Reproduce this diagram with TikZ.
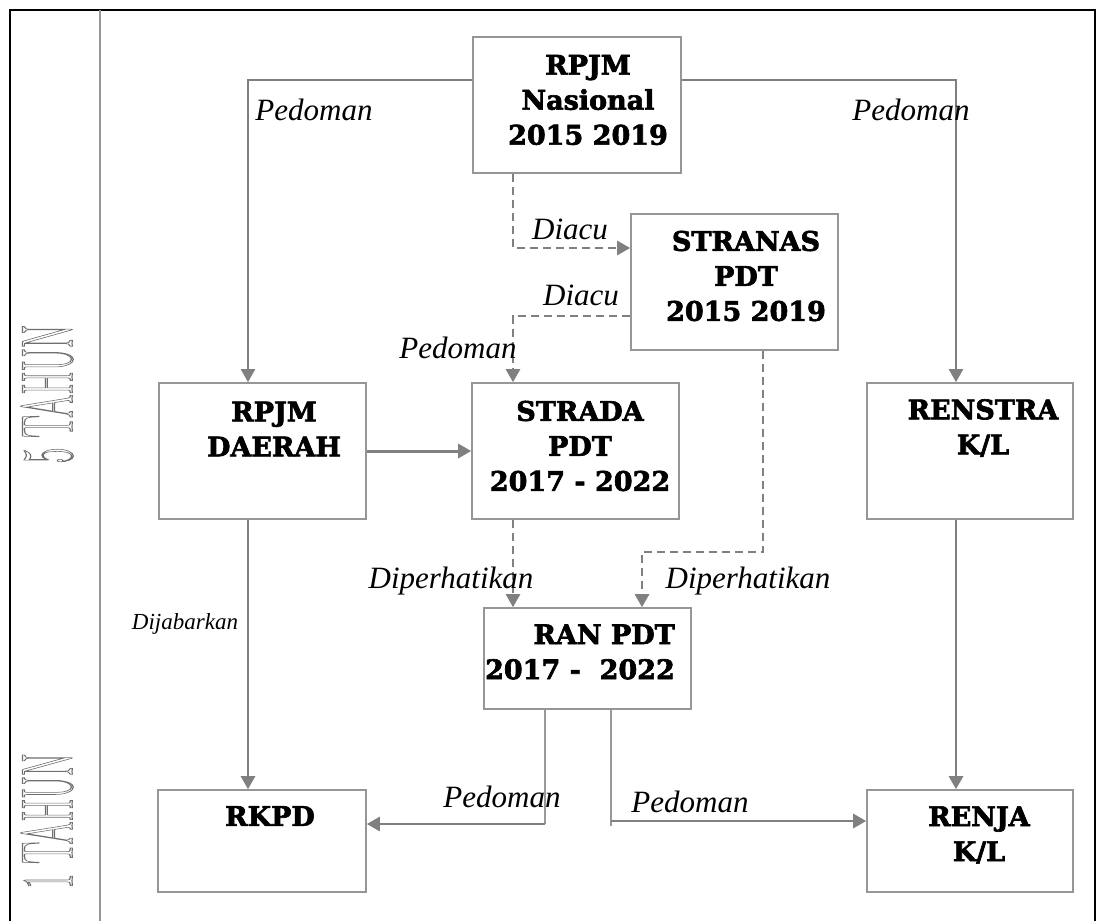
\documentclass[tikz,border=0pt]{standalone}
\usepackage{fontspec}
\usepackage{graphicx}
\newfontfamily\tnr{Liberation Serif}
\newfontfamily\boxfont{DejaVu Serif}[BoldFeatures={FakeBold=2.4}]
\usetikzlibrary{arrows.meta}
\definecolor{boxgray}{RGB}{150,150,150}
\definecolor{argray}{RGB}{128,128,128}
\definecolor{sidegray}{RGB}{110,110,110}
\newcommand{\outlinetext}[1]{\special{pdf:literal direct 1 Tr 1.2 w}#1\special{pdf:literal direct 0 Tr}}
\tikzset{
  box/.style={draw=boxgray, line width=1.6pt, rectangle, inner sep=0pt},
  btext/.style={font=\boxfont\bfseries\fontsize{27}{35}\selectfont, align=center, inner sep=0pt},
  lbl/.style={font=\tnr\itshape\fontsize{31}{36}\selectfont, inner sep=0pt},
  smalllbl/.style={font=\tnr\itshape\fontsize{23}{28}\selectfont, inner sep=0pt},
  tip/.style={-{Triangle[length=13pt,width=14pt]}},
  sl/.style={draw=argray, line width=2.1pt, tip, color=argray},
  thickl/.style={draw=argray, line width=3pt, tip, color=argray},
  thinl/.style={draw=argray!80, line width=1.5pt},
  dl/.style={draw=argray, line width=2.6pt, dash pattern=on 8pt off 5pt, tip, color=argray},
  side/.style={font=\rmfamily\fontsize{73}{80}\selectfont, text=sidegray, inner sep=0pt, rotate=90}
}
\begin{document}
\begin{tikzpicture}[x=1pt,y=-1pt]
\useasboundingbox (0,0) rectangle (1097,921);
% frame
\draw[black, line width=2pt] (9.5,921) -- (9.5,9.5) -- (1095,9.5) -- (1095,921);
\draw[boxgray, line width=1.4pt] (100,9.5) -- (100,921);
% side labels
\node[side] (t5) at (47,394) {\scalebox{0.46}[1]{\outlinetext{5 TAHUN}}};
\node[side] (t1) at (47,821) {\scalebox{0.45}[1]{\outlinetext{1 TAHUN}}};
% boxes
\node[box, minimum width=208pt, minimum height=136pt] (nas) at (577,105) {};
\node[box, minimum width=207pt, minimum height=136pt] (str) at (734.5,282) {};
\node[box, minimum width=207pt, minimum height=136pt] (stra) at (575.5,451) {};
\node[box, minimum width=207pt, minimum height=136pt] (dae) at (262.5,451) {};
\node[box, minimum width=206pt, minimum height=136pt] (ren) at (970,451) {};
\node[box, minimum width=207pt, minimum height=101pt] (ran) at (587.5,658.5) {};
\node[box, minimum width=208pt, minimum height=102pt] (rkpd) at (262,841) {};
\node[box, minimum width=206pt, minimum height=102pt] (renja) at (970,841) {};
% box texts
\node[btext] (nast) at (588,100) {RPJM\\Nasional\\2015 2019};
\node[btext] (strt) at (746,276) {STRANAS\\PDT\\2015 2019};
\node[btext] (strat) at (580,446) {STRADA\\PDT\\2017 - 2022};
\node[btext] (daet) at (274,429) {RPJM\\DAERAH};
\node[btext] (rent) at (983,428) {RENSTRA\\K/L};
\node[btext, align=right, anchor=east] (rant) at (675,652) {RAN PDT\\2017 -\ \ 2022};
\node[btext] (rkpdt) at (270,816) {RKPD};
\node[btext] (renjat) at (979,835) {RENJA\\K/L};
% coordinates
\coordinate (n1) at (248,80);
\coordinate (n2) at (956,80);
\coordinate (n3) at (513,248);
\coordinate (n4) at (513,316);
\coordinate (n6) at (513,0);
\coordinate (n7a) at (763,552);
\coordinate (n7b) at (642,552);
\coordinate (n10) at (545,824);
\coordinate (n11) at (611,821);
\coordinate (n11b) at (611,826);
% connectors
\draw[sl] (nas.west |- n1) -- (n1) -- (dae.north -| n1);
\draw[sl] (nas.east |- n2) -- (n2) -- (ren.north -| n2);
\draw[dl] (nas.south -| n3) -- (n3) -- (str.west |- n3);
\draw[dl] (str.west |- n4) -- (n4) -- (stra.north -| n4);
\draw[thickl] (dae.east) -- (stra.west);
\draw[dl] (stra.south -| n6) -- (ran.north -| n6);
\draw[dl] (str.south -| n7a) -- (n7a) -- (n7b) -- (ran.north -| n7b);
\draw[sl, line width=2.6pt] (dae.south -| n1) -- (rkpd.north -| n1);
\draw[sl, line width=2.6pt] (ren.south -| n2) -- (renja.north -| n2);
\draw[thinl] (ran.south -| n10) -- (n10);
\draw[sl, line width=2.8pt] (n10) -- (rkpd.east |- n10);
\draw[thinl] (ran.south -| n11) -- (n11b);
\draw[sl, line width=2.8pt] (n11) -- (renja.west |- n11);
% labels
\node[lbl] (l1) at (314,110) {Pedoman};
\node[lbl] (l2) at (911,110) {Pedoman};
\node[lbl] (l3) at (570,229) {Diacu};
\node[lbl] (l4) at (581,295) {Diacu};
\node[lbl] (l5) at (458,348) {Pedoman};
\node[lbl] (l6) at (451,581) {Diperhatikan};
\node[lbl] (l7) at (748,581) {Diperhatikan};
\node[smalllbl] (l8) at (185,624) {Dijabarkan};
\node[lbl] (l9) at (502,797) {Pedoman};
\node[lbl] (l10) at (690,802) {Pedoman};
\end{tikzpicture}
\end{document}
